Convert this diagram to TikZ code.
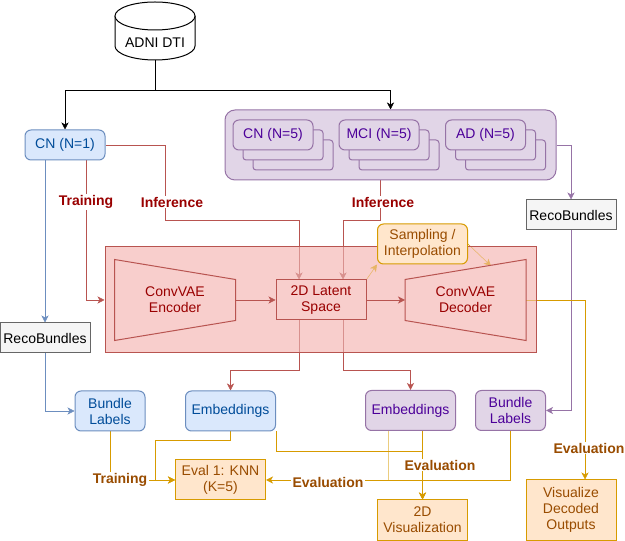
\documentclass[tikz,border=0pt]{standalone}
\usepackage{fontspec}
\setmainfont{Liberation Sans}
\usepackage{xcolor}
\usepackage{tikz}
\usetikzlibrary{arrows.meta}

\definecolor{bluefill}{HTML}{DAE8FC}
\definecolor{blueline}{HTML}{6C8EBF}
\definecolor{bluetext}{HTML}{004C99}
\definecolor{purplefill}{HTML}{E1D5E7}
\definecolor{purpleline}{HTML}{9673A6}
\definecolor{purpletext}{HTML}{4C0099}
\definecolor{redfill}{HTML}{F8CECC}
\definecolor{redline}{HTML}{B85450}
\definecolor{redtext}{HTML}{990000}
\definecolor{orangefill}{HTML}{FFE6CC}
\definecolor{orangeline}{HTML}{D79B00}
\definecolor{orangetext}{HTML}{994C00}
\definecolor{greyfill}{HTML}{F5F5F5}
\definecolor{greyline}{HTML}{666666}

\pgfdeclarelayer{bg}
\pgfdeclarelayer{lines}
\pgfsetlayers{bg,lines,main}

\tikzset{
  box/.style={draw, minimum width=67.5pt, minimum height=30pt, align=center, inner sep=0.75pt},
  bluebox/.style={box, draw=blueline, fill=bluefill, text=bluetext, rounded corners=4.5pt},
  purplebox/.style={box, draw=purpleline, fill=purplefill, text=purpletext, rounded corners=4.5pt},
  redbox/.style={box, draw=redline, fill=redfill, text=redtext},
  orangebox/.style={box, draw=orangeline, fill=orangefill, text=orangetext},
  greybox/.style={box, draw=greyline, fill=greyfill, minimum height=22.5pt},
  lbl/.style={font=\fontsize{10.5}{12}\selectfont\bfseries, fill=white, inner sep=1pt},
  redlbl/.style={lbl, text=redtext},
  orangelbl/.style={lbl, text=orangetext},
  arr/.style={-{Stealth[length=5.25pt,width=5.25pt,inset=1.5pt]}},
}

\begin{document}
\begin{tikzpicture}[x=0.75pt,y=0.75pt,yscale=-1,xscale=1, line width=0.75pt, font=\fontsize{10.5}{12}\selectfont]
\useasboundingbox (0,0) rectangle (625,541);

%Shape: Cylinder
\draw[fill=white] (115,16) -- (115,46) arc[start angle=180, end angle=0, x radius=40, y radius=14] -- (195,16);
\draw[fill=white] (155,16) ellipse[x radius=40, y radius=14];
\node (adni) at (155,43) {ADNI DTI};
\coordinate (adnibase) at (155,60);

%Shape: Rounded Rectangle
\node (cnone) [bluebox, minimum width=60pt, minimum height=22.5pt] at (65,145) {CN (N=1)};
\node (group) [draw=purpleline, fill=purplefill, rounded corners=7.5pt, minimum width=248.25pt, minimum height=52.5pt] at (390.5,145) {};
\foreach \cx in {273,379,485.5} {
  \draw[purpleline, fill=purplefill, rounded corners=2.25pt] (\cx-20,140) rectangle (\cx+60,170);
  \draw[purpleline, fill=purplefill, rounded corners=2.25pt] (\cx-30,130) rectangle (\cx+50,160);
}
\node (cnfive) [purplebox, minimum width=60pt, minimum height=22.5pt] at (273,135) {CN (N=5)};
\node (mci) [purplebox, minimum width=60pt, minimum height=22.5pt] at (379,135) {MCI (N=5)};
\node (adfive) [purplebox, minimum width=60pt, minimum height=22.5pt] at (485.5,135) {AD (N=5)};

%Shape: Rectangle
\node (recor) [greybox] at (571,215) {RecoBundles};
\node (recol) [greybox] at (45,338) {RecoBundles};

%Shape: Model block
\node (pipe) [draw=redline, fill=redfill, fill opacity=0.5, minimum width=323.25pt, minimum height=79.5pt] at (320.5,300) {};
\node (enc) [text=redtext, align=center, minimum width=90pt, minimum height=60pt] at (175,300) {ConvVAE\\Encoder};
\draw[redline] (enc.north west) -- ([yshift=15pt]enc.north east) -- ([yshift=-15pt]enc.south east) -- (enc.south west) -- cycle;
\node (dec) [text=redtext, align=center, minimum width=90pt, minimum height=60pt] at (465.5,300) {ConvVAE\\Decoder};
\draw[redline] ([yshift=15pt]dec.north west) -- (dec.north east) -- (dec.south east) -- ([yshift=-15pt]dec.south west) -- cycle;
\coordinate (dectop) at (491,266);
\node (latent) [redbox] at (321,300) {2D Latent\\Space};
\node (samp) [orangebox, rounded corners=4.5pt] at (422.5,244) {Sampling /\\Interpolation};

%Shape: Outputs
\node (bl1) [bluebox, minimum width=52.5pt] at (110,411) {Bundle\\Labels};
\node (emb1) [bluebox] at (230.5,411) {Embeddings};
\node (emb2) [purplebox] at (410.5,410.5) {Embeddings};
\node (bl2) [purplebox, minimum width=52.5pt] at (510.5,410.5) {Bundle\\Labels};
\node (eval) [orangebox] at (220.5,480) {Eval 1: KNN\\(K=5)};
\node (vis2d) [orangebox] at (422.5,520) {2D\\Visualization};
\node (visdec) [orangebox, minimum height=45pt] at (571,510) {Visualize\\Decoded\\Outputs};

% Text Node
\node (trainred) [redlbl] at (86,202) {Training};
\node (infone) [redlbl] at (172,202) {Inference};
\node (inftwo) [redlbl] at (383,202) {Inference};
\node (evaldec) [orangelbl] at (589,448) {Evaluation};
\node (trainorange) [orangelbl] at (120,480) {Training};
\node (evalknn) [orangelbl] at (328,482) {Evaluation};
\node (evalvis) [orangelbl] at (440,465) {Evaluation};

\begin{pgfonlayer}{bg}
\fill[redfill] (pipe.north west) rectangle (pipe.south east);
\end{pgfonlayer}

%Connectors
\begin{pgfonlayer}{lines}
\draw[arr] (adnibase) -- (155,90) -| (cnone.north);
\draw[arr] (adnibase) -- (155,90) -| (group.north);
\draw[redline, arr] (cnone.east) -| (165,220) -| ([xshift=-16.5pt]latent.north);
\draw[redline, arr] ([xshift=15.75pt]cnone.south) |- (pipe.west);
\draw[blueline, arr] ([xshift=-15pt]cnone.south) -- (recol.north);
\draw[redline, arr] ([xshift=-7.5pt]group.south) -- ++(0,40) -| ([xshift=16.5pt]latent.north);
\draw[purpleline, arr] (group.east) -| (recor.north);
\draw[redline, arr] ([xshift=-16.5pt]latent.south) -- ++(0,50) -| (emb1.north);
\draw[redline, arr] ([xshift=16.5pt]latent.south) -- ++(0,50) -| (emb2.north);
\draw[blueline, arr] (recol.south) |- (bl1.west);
\draw[purpleline, arr] (recor.south) |- (bl2.east);
\draw[orangeline, arr] (latent.north east) -- (samp.south west);
\draw[orangeline, arr] (samp.east) -- (dectop);
\draw[orangeline, arr] (dec.east) -| ([xshift=10.5pt]visdec.north);
\draw[orangeline, arr] (bl1.south) |- (eval.west);
\draw[orangeline, arr] (emb1.south) -- ++(0,9) -| (155,480) -- (eval.west);
\draw[orangeline, arr] (emb1.south east) -- ++(0,20) -| (vis2d.north);
\draw[orangeline, arr] ([xshift=9pt]emb2.south) -- (vis2d.north);
\draw[orangeline, opacity=0.5] ([xshift=-16.5pt]emb2.south) -- ++(0,49);
\draw[orangeline, arr] (bl2.south) |- (eval.east);
\end{pgfonlayer}

\draw[redline, arr] (enc.east) -- (latent.west);
\draw[redline, arr] (latent.east) -- (dec.west);
\end{tikzpicture}
\end{document}
